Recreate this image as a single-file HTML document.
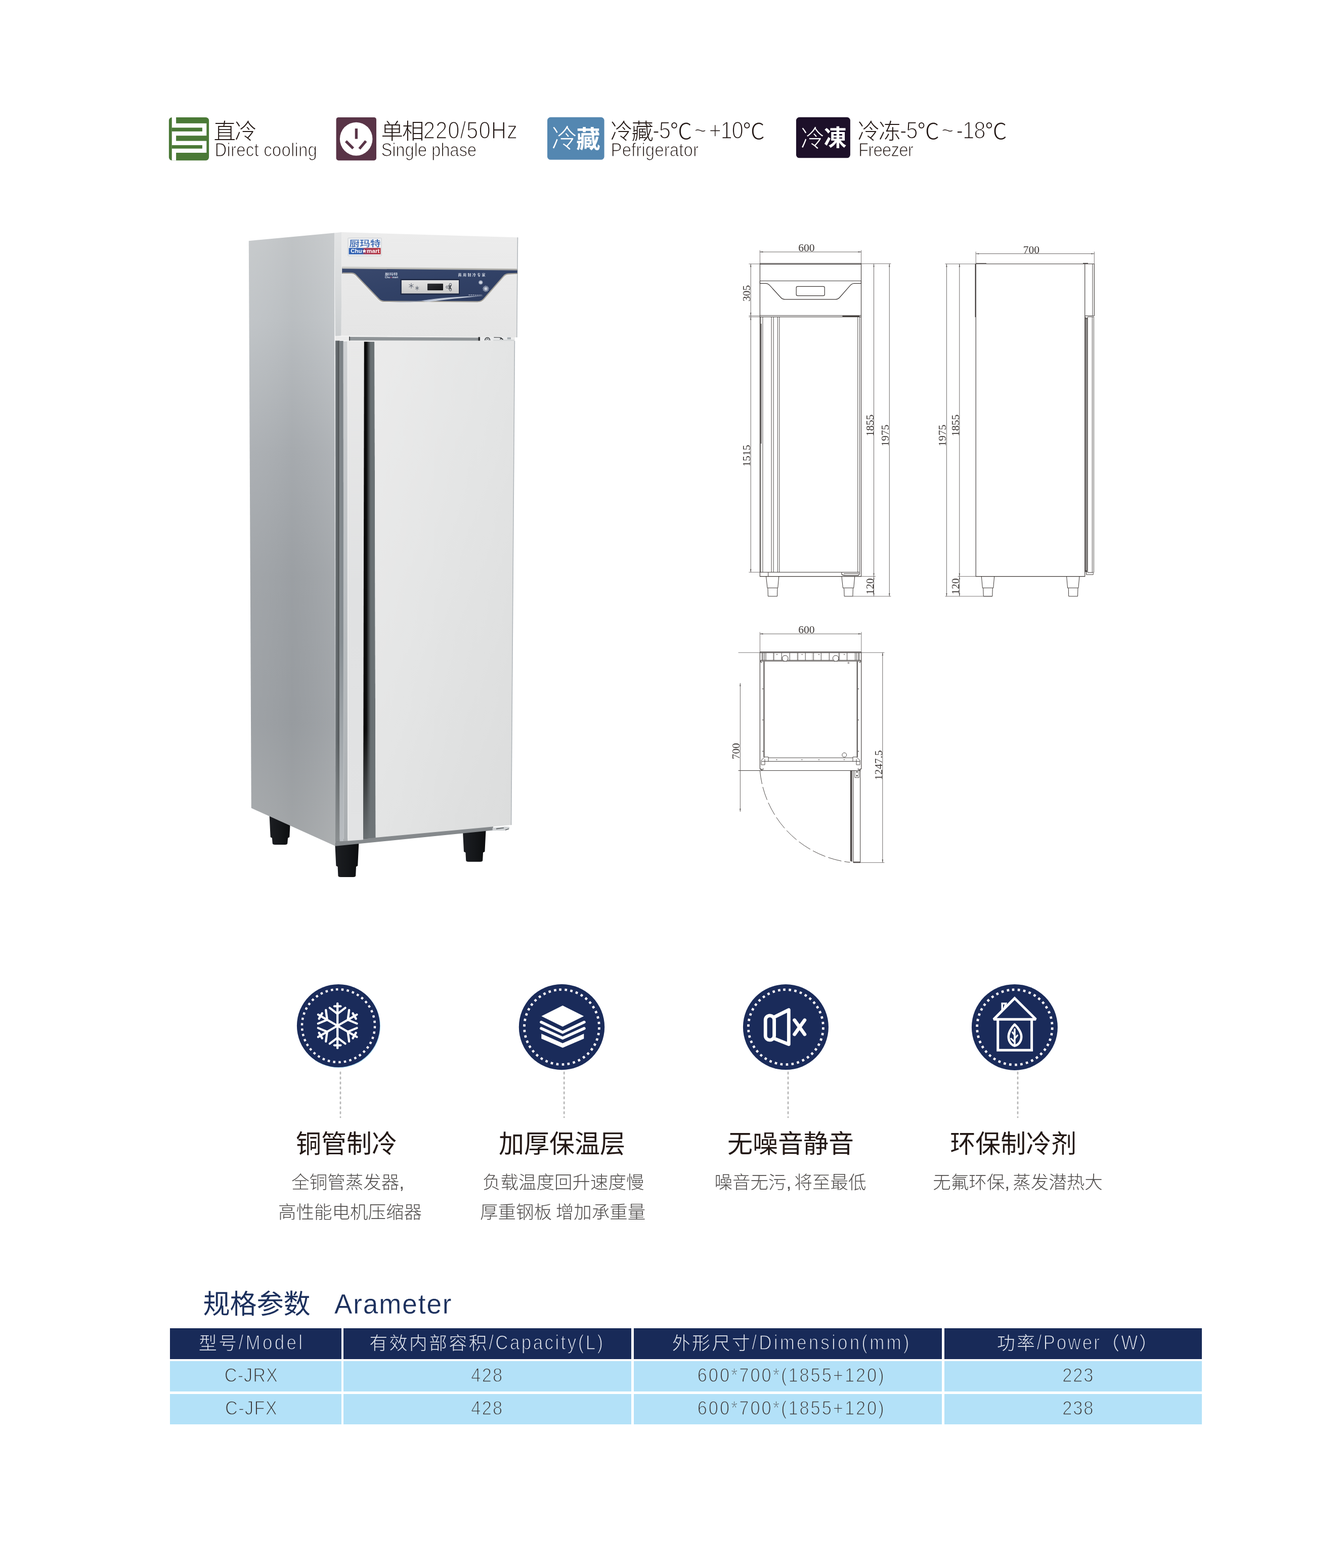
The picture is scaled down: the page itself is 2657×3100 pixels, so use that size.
<!DOCTYPE html>
<html lang="zh"><head><meta charset="utf-8"><title>C-JRX / C-JFX</title>
<style>html,body{margin:0;padding:0;background:#fff}
body{width:2657px;height:3100px;position:relative;font-family:"Liberation Sans",sans-serif}
.c{position:absolute}
.txt{position:absolute;left:0;top:0;width:2657px;height:3100px;will-change:transform}
.t{position:absolute;white-space:nowrap;line-height:1;font-family:"Liberation Sans",sans-serif;font-kerning:none;font-weight:400}
svg.art{position:absolute;left:0;top:0;will-change:transform}
svg.art text{font-kerning:none}
svg.art text.cjk{font-family:"Liberation Sans","Noto Sans CJK SC",sans-serif}
svg.art text.cjkjp{font-family:"Liberation Sans","Noto Sans CJK JP",sans-serif}</style></head><body>
<div class="tbl"><div class="c" style="left:336.0px;top:2625.9px;width:338.6px;height:60.7px;background:#182a58"></div><div class="c" style="left:679.0px;top:2625.9px;width:569.4px;height:60.7px;background:#182a58"></div><div class="c" style="left:1253.3px;top:2625.9px;width:608.9px;height:60.7px;background:#182a58"></div><div class="c" style="left:1866.9px;top:2625.9px;width:508.8px;height:60.7px;background:#182a58"></div><div class="c" style="left:336.0px;top:2691.1px;width:338.6px;height:60.3px;background:#b3e1f8"></div><div class="c" style="left:679.0px;top:2691.1px;width:569.4px;height:60.3px;background:#b3e1f8"></div><div class="c" style="left:1253.3px;top:2691.1px;width:608.9px;height:60.3px;background:#b3e1f8"></div><div class="c" style="left:1866.9px;top:2691.1px;width:508.8px;height:60.3px;background:#b3e1f8"></div><div class="c" style="left:336.0px;top:2756.0px;width:338.6px;height:60.3px;background:#b3e1f8"></div><div class="c" style="left:679.0px;top:2756.0px;width:569.4px;height:60.3px;background:#b3e1f8"></div><div class="c" style="left:1253.3px;top:2756.0px;width:608.9px;height:60.3px;background:#b3e1f8"></div><div class="c" style="left:1866.9px;top:2756.0px;width:508.8px;height:60.3px;background:#b3e1f8"></div></div>
<svg class="art" width="2657" height="3100" viewBox="0 0 2657 3100">
<rect x="333.9" y="231.9" width="79.2" height="85.3" rx="6.2" fill="#4a7936"/>
<g fill="#fff"><rect x="339.75" y="231.9" width="8.35" height="85.3"/><rect x="347.6" y="243.85" width="60.7" height="24.35"/><rect x="347.6" y="278.6" width="60.7" height="23.4"/></g>
<g fill="#4a7936"><rect x="339.6" y="252.4" width="60.3" height="7.4"/><rect x="339.6" y="287" width="60.3" height="6.8"/></g>
<rect x="664.6" y="231.9" width="79.4" height="85.3" rx="4.6" fill="#593447"/>
<ellipse cx="704.15" cy="274.65" rx="32.3" ry="33" fill="#fff"/>
<g stroke="#593447" stroke-width="5.3" stroke-linecap="butt"><line x1="704.4" y1="254.1" x2="704.4" y2="274.6"/><line x1="683.8" y1="279.2" x2="698.2" y2="293.4"/><line x1="723.4" y1="278.9" x2="710.5" y2="294.1"/></g>
<rect x="1082" y="231.8" width="112.6" height="84" rx="6.4" fill="#5487b1"/>
<rect x="1573.9" y="231.8" width="107" height="80.5" rx="6.4" fill="#1d1029"/>
<defs>
<linearGradient id="gSide" x1="0" y1="0" x2="0" y2="1">
<stop offset="0" stop-color="#c6c9cb"/><stop offset="0.14" stop-color="#bfc3c6"/><stop offset="0.36" stop-color="#aaaeb2"/><stop offset="0.56" stop-color="#9fa3a7"/><stop offset="0.8" stop-color="#9b9fa3"/><stop offset="1" stop-color="#a7aaac"/>
</linearGradient>
<linearGradient id="gSideH" x1="0" y1="0" x2="1" y2="0">
<stop offset="0" stop-color="#ffffff" stop-opacity="0.03"/><stop offset="0.5" stop-color="#50565c" stop-opacity="0.05"/><stop offset="1" stop-color="#ffffff" stop-opacity="0.07"/>
</linearGradient>
<linearGradient id="gTop" x1="0" y1="0" x2="0" y2="1">
<stop offset="0" stop-color="#ececec"/><stop offset="1" stop-color="#e5e5e5"/>
</linearGradient>
<linearGradient id="gDoor" x1="0" y1="0" x2="1" y2="1">
<stop offset="0" stop-color="#ebebeb"/><stop offset="0.45" stop-color="#e4e5e5"/><stop offset="1" stop-color="#dbdcdc"/>
</linearGradient>
<linearGradient id="gRecess" x1="0" y1="0" x2="1" y2="0">
<stop offset="0" stop-color="#050505"/><stop offset="0.27" stop-color="#0d0d0d"/><stop offset="0.44" stop-color="#3f4345"/><stop offset="0.6" stop-color="#697073"/><stop offset="1" stop-color="#6b7275"/>
</linearGradient>
<linearGradient id="gRecessV" x1="0" y1="0" x2="0" y2="1">
<stop offset="0" stop-color="#6d7376" stop-opacity="0"/><stop offset="0.78" stop-color="#6d7376" stop-opacity="0"/><stop offset="0.93" stop-color="#6d7376" stop-opacity="0.7"/><stop offset="1" stop-color="#6f7578" stop-opacity="0.95"/>
</linearGradient>
<linearGradient id="gBand" x1="0" y1="0" x2="1" y2="1">
<stop offset="0" stop-color="#3a496d"/><stop offset="0.45" stop-color="#324267"/><stop offset="1" stop-color="#2c3b5e"/>
</linearGradient>
<linearGradient id="gSilver" x1="0" y1="0" x2="0" y2="1">
<stop offset="0" stop-color="#e4e4e4"/><stop offset="1" stop-color="#c9c9c9"/>
</linearGradient>
<linearGradient id="gLogoBar" x1="0" y1="0" x2="1" y2="0">
<stop offset="0" stop-color="#2f62b4"/><stop offset="0.42" stop-color="#3560ae"/><stop offset="0.5" stop-color="#a03a58"/><stop offset="1" stop-color="#b8363f"/>
</linearGradient>
<linearGradient id="gS1" x1="0" y1="0" x2="1" y2="0"><stop offset="0" stop-color="#70767a"/><stop offset="1" stop-color="#505456"/></linearGradient>
<linearGradient id="gS1V" x1="0" y1="0" x2="0" y2="1"><stop offset="0" stop-color="#8a8e90" stop-opacity="0"/><stop offset="0.8" stop-color="#8a8e90" stop-opacity="0"/><stop offset="1" stop-color="#8a8e90" stop-opacity="1"/></linearGradient>
<linearGradient id="gS2" x1="0" y1="0" x2="0" y2="1"><stop offset="0" stop-color="#7b8185"/><stop offset="0.6" stop-color="#868d92"/><stop offset="0.9" stop-color="#b0b5b9"/><stop offset="1" stop-color="#b9bdc1"/></linearGradient>
<linearGradient id="gS3" x1="0" y1="0" x2="0" y2="1"><stop offset="0" stop-color="#cfd1d3"/><stop offset="0.5" stop-color="#bbbfc2"/><stop offset="1" stop-color="#a9adb0"/></linearGradient>
<linearGradient id="gHandle" x1="0" y1="0" x2="0" y2="1"><stop offset="0" stop-color="#e9e9e9"/><stop offset="0.5" stop-color="#e0e1e2"/><stop offset="1" stop-color="#e2e3e4"/></linearGradient>
<linearGradient id="gBezel" x1="0" y1="0" x2="0" y2="1"><stop offset="0" stop-color="#e3e4e5"/><stop offset="0.5" stop-color="#d9dbdc"/><stop offset="1" stop-color="#cbced0"/></linearGradient>
<linearGradient id="gTrim" x1="0" y1="0" x2="1" y2="0"><stop offset="0" stop-color="#a9a69f"/><stop offset="0.15" stop-color="#e8e8e6"/><stop offset="0.3" stop-color="#9c9890"/><stop offset="0.7" stop-color="#c9c8c4"/><stop offset="1" stop-color="#a29f98"/></linearGradient>
<linearGradient id="gTrimTop" x1="0" y1="0" x2="0" y2="1"><stop offset="0" stop-color="#dadad8"/><stop offset="0.6" stop-color="#b7b6b1"/><stop offset="1" stop-color="#8e8f93"/></linearGradient>
<linearGradient id="gLcd" x1="0" y1="0" x2="1" y2="1"><stop offset="0" stop-color="#2d2f34"/><stop offset="1" stop-color="#131417"/></linearGradient>
<linearGradient id="gFoot" x1="0" y1="0" x2="1" y2="0">
<stop offset="0" stop-color="#1c1e22"/><stop offset="0.5" stop-color="#15171a"/><stop offset="1" stop-color="#0c0d0f"/>
</linearGradient>
</defs>
<path d="M532.5 1610 L574.5 1610 L572.3 1655 L569.0999999999999 1656.8 L568.3 1667 Q568.3 1670 563.3 1670 L543.7 1670 Q538.7 1670 538.7 1667 L537.9000000000001 1656.8 L534.7 1655 Z" fill="url(#gFoot)"/>
<path d="M662.2 1666 L709.4 1666 L707.1999999999999 1711.7 L703.9999999999999 1713.5 L703.1999999999999 1731 Q703.1999999999999 1734 698.1999999999999 1734 L673.4000000000001 1734 Q668.4000000000001 1734 668.4000000000001 1731 L667.6000000000001 1713.5 L664.4000000000001 1711.7 Z" fill="url(#gFoot)"/>
<path d="M914.8 1640 L960.6 1640 L958.4 1683.8 L955.0 1685.6 L954.2 1700.8 Q954.2 1703.8 949.2 1703.8 L926.1999999999999 1703.8 Q921.1999999999999 1703.8 921.1999999999999 1700.8 L920.4 1685.6 L917.0 1683.8 Z" fill="url(#gFoot)"/>
<polygon points="491.8,476.2 661,460.6 663.2,1672.8 496.8,1597.6" fill="url(#gSide)"/>
<polygon points="491.8,476.2 661,460.6 663.2,1672.8 496.8,1597.6" fill="url(#gSideH)"/>
<polygon points="661,460.6 675.7,459 674.7,663.8 662.8,664.4" fill="url(#gBezel)"/>
<polygon points="662.8,664.4 1018,667 1018,674.2 662.8,673.6" fill="#ececec"/>
<polygon points="691,666 946,667.4 946,673.4 691,673.2" fill="#8f9497"/>
<rect x="690.2" y="665.5" width="1.4" height="8" fill="#2a2c2e"/>
<rect x="945.5" y="666.2" width="3.6" height="7.4" fill="#2c2e30"/>
<polygon points="949,666.4 1010,666.8 1010,673.8 949,673.6" fill="#e9eaeb"/>
<rect x="1002.8" y="666.6" width="7.2" height="4.2" fill="#a9afb3"/>
<polygon points="975,671.4 1016.8,671.6 1016.8,673.9 975,673.8" fill="#d5d7d8"/>
<path d="M958.6 672.8 Q959.4 667.6 963.6 667.4 Q967.8 667.6 968.6 672.8" fill="none" stroke="#45484b" stroke-width="1.7"/>
<path d="M961.4 672.6 L963.6 669.4 L966 672.6" fill="none" stroke="#6a6e71" stroke-width="1.1"/>
<path d="M976.4 666.9 L985.8 667 Q990.4 667.2 992 669.6 L994.6 671.2" fill="none" stroke="#3b3e41" stroke-width="1.6"/>
<path d="M988.6 671 L991 668.6 L993.4 671" fill="none" stroke="#2e3032" stroke-width="1.5"/>
<polygon points="675.7,459 1024.2,469.4 1022.4,667 674.7,663.8" fill="url(#gTop)"/>
<polygon points="1022.6,469.3 1024.2,469.4 1022.4,667 1021.0,667" fill="#b4b9bd"/>
<polygon points="663.2,1660 975,1632 975,1641.4 663.2,1672.8" fill="#85898c"/>
<polygon points="973.7,1636.4 998,1634.2 1007,1634.8 1007,1638.4 998,1642 973.7,1642.2" fill="#cfd2d4"/>
<path d="M981 1638.6 L996 1636.8 M999 1641 L1006 1638.6" stroke="#5a5e61" stroke-width="1.6" fill="none"/>
<polygon points="662.9,673.6 671.5,673.6 671.5,1663 663.2,1663.6" fill="url(#gS1)"/>
<polygon points="662.9,673.6 671.5,673.6 671.5,1663 663.2,1663.6" fill="url(#gS1V)"/>
<polygon points="671.5,674 678.8,674 679.4,1663 671.5,1663.2" fill="url(#gS2)"/>
<polygon points="678.8,675 686.9,674.4 687.6,1662.6 679.4,1663" fill="url(#gS3)"/>
<polygon points="686.9,674.2 719.8,674.4 718,1660.2 687.6,1662.6" fill="url(#gHandle)"/>
<line x1="687.3" y1="675" x2="688" y2="1662" stroke="#f4f4f4" stroke-width="1"/>
<polygon points="719.8,675.6 740.4,675.6 742.6,1656 718,1658" fill="url(#gRecess)"/>
<polygon points="719.8,675.6 740.4,675.6 742.6,1656 718,1658" fill="url(#gRecessV)"/>
<polygon points="740.4,674.0 1017.2,674.0 1010.6,1631.1 742.6,1655.9" fill="url(#gDoor)"/>
<polygon points="1016.6,674 1018.2,674 1011.4,1631 1009.8,1631.2" fill="#b3b8bc"/>
<path d="M676.2 529 L1022.8 533.4 L1022.7 542.4 L1004.6 543.1 Q998.6 543.4 994.6 548 L955.6 592.8 Q951 598 944 598 L759 597.4 Q752.4 597.2 748.4 593 L703 545.4 Q699.4 541.6 693.5 541.6 L676.2 541.6 Z" fill="url(#gBand)"/>
<path d="M1022.7 542.4 L1004.6 543.1 Q998.6 543.4 994.6 548 L955.6 592.8 Q951 598 944 598 L759 597.4 Q752.4 597.2 748.4 593 L703 545.4 Q699.4 541.6 693.5 541.6 L676.2 541.6" fill="none" stroke="#f6f6f6" stroke-width="1.6"/>
<path d="M1022.7 542.4 L1004.6 543.1 Q998.6 543.4 994.6 548 L955.6 592.8 Q951 598 944 598 L759 597.4 Q752.4 597.2 748.4 593 L703 545.4 Q699.4 541.6 693.5 541.6 L676.2 541.6" fill="none" stroke="#a5a199" stroke-width="2.3" transform="translate(0.6 -1.6)"/>
<polygon points="676.2,526.8 1022.8,531.4 1022.8,534.8 676.2,531.2" fill="url(#gTrimTop)"/>
<path d="M833 594.6 Q884 586.2 957 585 Q892 590.4 851 596.6 Q842 597.4 833 594.6 Z" fill="#d3d9e6" opacity="0.9"/>
<line x1="926.4" y1="583.2" x2="953" y2="583.6" stroke="#c5cbd8" stroke-width="1.5" stroke-dasharray="3 1.2" opacity="0.8"/>
<path d="M770 597 Q820 596.4 868 590.4 Q826 598.4 790 597.8 Z" fill="#8a97b5" opacity="0.6"/>
<rect x="791.5" y="551.6" width="117.4" height="31.2" fill="#1f2a45"/>
<rect x="793.8" y="554" width="113.2" height="26.2" fill="url(#gSilver)"/>
<rect x="845" y="560.8" width="31" height="13.2" rx="0.8" fill="url(#gLcd)"/>
<g stroke="#4a5160" stroke-width="0.9"><line x1="808.50" y1="562.40" x2="817.50" y2="567.60"/><line x1="813.00" y1="559.80" x2="813.00" y2="570.20"/><line x1="817.50" y1="562.40" x2="808.50" y2="567.60"/></g>
<g stroke="#4a5160" stroke-width="0.9"><line x1="820.96" y1="567.50" x2="828.24" y2="571.70"/><line x1="824.60" y1="565.40" x2="824.60" y2="573.80"/><line x1="828.24" y1="567.50" x2="820.96" y2="571.70"/></g>
<circle cx="890.4" cy="562.4" r="2.2" fill="none" stroke="#3c4250" stroke-width="0.9"/><circle cx="884" cy="567.6" r="2.2" fill="none" stroke="#3c4250" stroke-width="0.9"/><circle cx="890.4" cy="573" r="2.2" fill="none" stroke="#3c4250" stroke-width="0.9"/>
<path d="M887 564 L892 571.6 M892 564 L887 571.6" stroke="#20242c" stroke-width="1.5"/>
<g stroke="#e8ecf4" stroke-width="1.1" opacity="0.9"><line x1="946.10" y1="558.40" x2="954.50" y2="558.40"/><line x1="948.20" y1="554.76" x2="952.40" y2="562.04"/><line x1="952.40" y1="554.76" x2="948.20" y2="562.04"/><line x1="946.66" y1="556.30" x2="953.94" y2="560.50"/><line x1="950.30" y1="554.20" x2="950.30" y2="562.60"/><line x1="953.94" y1="556.30" x2="946.66" y2="560.50"/></g>
<g stroke="#e8ecf4" stroke-width="1.1" opacity="0.9"><line x1="954.20" y1="570.80" x2="966.60" y2="570.80"/><line x1="957.30" y1="565.43" x2="963.50" y2="576.17"/><line x1="963.50" y1="565.43" x2="957.30" y2="576.17"/><line x1="955.03" y1="567.70" x2="965.77" y2="573.90"/><line x1="960.40" y1="564.60" x2="960.40" y2="577.00"/><line x1="965.77" y1="567.70" x2="955.03" y2="573.90"/></g>
<rect x="688" y="470.6" width="66" height="35.2" rx="1.2" fill="#eef0f2" stroke="#c9cbce" stroke-width="1"/>
<rect x="689.6" y="490.2" width="63" height="12.6" fill="url(#gLogoBar)"/>
<path d="M1502.4 1139.6 L1502.4 520.8 L1702.5 520.8 L1702.5 1139.6 Z" fill="none" stroke="#3a3533" stroke-width="1.1" />
<line x1="1502.4" y1="522.4" x2="1702.5" y2="522.4" stroke="#3a3533" stroke-width="1.3"/>
<line x1="1502.4" y1="555.3" x2="1702.5" y2="555.3" stroke="#3a3533" stroke-width="1.0"/>
<path d="M1502.4 555.3 L1502.4 560.3 L1514.6 560.3 Q1518.6 560.6 1521.6 564.2 L1543.4 588 Q1546.6 591.8 1551.6 591.8 L1651.8 591.8 Q1656.8 591.8 1660 588 L1681 564.2 Q1684 560.6 1688.4 560.3 L1702.5 560.3 L1702.5 555.3" fill="none" stroke="#3a3533" stroke-width="1.2" />
<rect x="1574.2" y="566.4" width="56" height="18.3" rx="2.6" fill="none" stroke="#3a3533" stroke-width="1.2"/>
<line x1="1502.4" y1="623.8" x2="1702.5" y2="623.8" stroke="#3a3533" stroke-width="1.0"/>
<line x1="1502.4" y1="626.6" x2="1702.5" y2="626.6" stroke="#3a3533" stroke-width="1.0"/>
<line x1="1665.4" y1="625.2" x2="1699.5" y2="625.2" stroke="#3a3533" stroke-width="2.0"/>
<line x1="1503.9" y1="626.6" x2="1503.9" y2="1131.3" stroke="#3a3533" stroke-width="0.9"/>
<line x1="1507.9" y1="626.6" x2="1507.9" y2="1131.3" stroke="#3a3533" stroke-width="0.9"/>
<line x1="1525.1" y1="626.6" x2="1525.1" y2="1131.3" stroke="#3a3533" stroke-width="0.9"/>
<line x1="1529.2" y1="626.6" x2="1529.2" y2="1131.3" stroke="#3a3533" stroke-width="0.9"/>
<line x1="1537.3" y1="626.6" x2="1537.3" y2="1131.3" stroke="#3a3533" stroke-width="0.9"/>
<line x1="1540.8" y1="626.6" x2="1540.8" y2="1131.3" stroke="#3a3533" stroke-width="0.9"/>
<line x1="1695.8" y1="626.6" x2="1695.8" y2="1131.3" stroke="#3a3533" stroke-width="0.9"/>
<line x1="1699.5" y1="626.6" x2="1699.5" y2="1131.3" stroke="#3a3533" stroke-width="0.9"/>
<line x1="1504.6" y1="640" x2="1504.6" y2="877" stroke="#3a3533" stroke-width="1.4"/>
<line x1="1502.4" y1="1131.3" x2="1699.5" y2="1131.3" stroke="#3a3533" stroke-width="1.0"/>
<line x1="1518.7" y1="1131.3" x2="1518.7" y2="1139.6" stroke="#3a3533" stroke-width="1.0"/>
<path d="M1664 1131.9 L1664 1135.5 Q1666 1137.6 1672 1137.6 L1697 1137.6 L1699.5 1134 L1699.5 1131.9 M1668 1134 L1698 1134" fill="none" stroke="#3a3533" stroke-width="1.1" />
<path d="M1514.6 1140 L1517 1162.3 L1537.7 1162.3 L1539.7 1140 M1517.6 1162.3 L1518 1163.8999999999999 L1518.4 1178.9 L1536.5 1178.9 L1536.9 1163.8999999999999 L1537.1000000000001 1162.3" fill="none" stroke="#3a3533" stroke-width="1.0" />
<path d="M1664 1140 L1666.4 1162.3 L1687.7 1162.3 L1689.7 1140 M1667.0 1162.3 L1668.7 1163.8999999999999 L1669.1000000000001 1178.9 L1685.8999999999999 1178.9 L1686.3 1163.8999999999999 L1687.1000000000001 1162.3" fill="none" stroke="#3a3533" stroke-width="1.0" />
<line x1="1501.8" y1="498.1" x2="1702.8" y2="498.1" stroke="#5a5655" stroke-width="0.9"/>
<line x1="1502.4" y1="494.6" x2="1502.4" y2="520.8" stroke="#5a5655" stroke-width="0.8"/>
<line x1="1702.5" y1="494.6" x2="1702.5" y2="520.8" stroke="#5a5655" stroke-width="0.8"/>
<path d="M1502.4 498.1 L1508.4 496.90000000000003 L1508.4 499.3 Z" fill="#5a5655"/>
<path d="M1702.5 498.1 L1696.5 496.90000000000003 L1696.5 499.3 Z" fill="#5a5655"/>
<text x="1594.4" y="497.4" text-anchor="middle" font-family="Liberation Serif, serif" font-size="21.5" fill="#3a3533">600</text>
<line x1="1484.2" y1="521.8" x2="1484.2" y2="1131.3" stroke="#5a5655" stroke-width="0.9"/>
<line x1="1480.4" y1="521.8" x2="1502.4" y2="521.8" stroke="#5a5655" stroke-width="0.8"/>
<line x1="1480.4" y1="624.2" x2="1502.4" y2="624.2" stroke="#5a5655" stroke-width="0.8"/>
<line x1="1480.4" y1="626.6" x2="1502.4" y2="626.6" stroke="#5a5655" stroke-width="0.8"/>
<line x1="1480.4" y1="1131.3" x2="1502.4" y2="1131.3" stroke="#5a5655" stroke-width="0.8"/>
<path d="M1484.2 521.8 L1483.0 527.8 L1485.4 527.8 Z" fill="#5a5655"/>
<path d="M1484.2 624.2 L1483.0 618.2 L1485.4 618.2 Z" fill="#5a5655"/>
<path d="M1484.2 626.6 L1483.0 632.6 L1485.4 632.6 Z" fill="#5a5655"/>
<path d="M1484.2 1131.3 L1483.0 1125.3 L1485.4 1125.3 Z" fill="#5a5655"/>
<text transform="translate(1483.4 579.8) rotate(-90)" text-anchor="middle" font-family="Liberation Serif, serif" font-size="21.5" fill="#3a3533">305</text>
<text transform="translate(1483.4 901) rotate(-90)" text-anchor="middle" font-family="Liberation Serif, serif" font-size="21.5" fill="#3a3533">1515</text>
<line x1="1727.5" y1="521.4" x2="1727.5" y2="1178.9" stroke="#5a5655" stroke-width="0.9"/>
<line x1="1758.3" y1="521.4" x2="1758.3" y2="1178.9" stroke="#5a5655" stroke-width="0.9"/>
<line x1="1702.5" y1="521.4" x2="1761.4" y2="521.4" stroke="#5a5655" stroke-width="0.8"/>
<line x1="1702.5" y1="1139.6" x2="1731" y2="1139.6" stroke="#5a5655" stroke-width="0.8"/>
<line x1="1686" y1="1178.9" x2="1761.4" y2="1178.9" stroke="#5a5655" stroke-width="0.8"/>
<path d="M1727.5 521.4 L1726.3 527.4 L1728.7 527.4 Z" fill="#5a5655"/>
<path d="M1758.3 521.4 L1757.1 527.4 L1759.5 527.4 Z" fill="#5a5655"/>
<path d="M1727.5 1139.6 L1726.3 1133.6 L1728.7 1133.6 Z" fill="#5a5655"/>
<path d="M1727.5 1139.6 L1726.3 1145.6 L1728.7 1145.6 Z" fill="#5a5655"/>
<path d="M1727.5 1178.9 L1726.3 1172.9 L1728.7 1172.9 Z" fill="#5a5655"/>
<path d="M1758.3 1178.9 L1757.1 1172.9 L1759.5 1172.9 Z" fill="#5a5655"/>
<text transform="translate(1726.6 841) rotate(-90)" text-anchor="middle" font-family="Liberation Serif, serif" font-size="21.5" fill="#3a3533">1855</text>
<text transform="translate(1757.2 861) rotate(-90)" text-anchor="middle" font-family="Liberation Serif, serif" font-size="21.5" fill="#3a3533">1975</text>
<text transform="translate(1726.6 1159.4) rotate(-90)" text-anchor="middle" font-family="Liberation Serif, serif" font-size="21.5" fill="#3a3533">120</text>
<path d="M1929.2 521.8 L2163.3 521.8 L2163.3 624.2 L2144.7 624.2 M1929.2 521.8 L1929.2 1139.6 L2144.7 1139.6 L2144.7 521.8" fill="none" stroke="#3a3533" stroke-width="1.1" />
<line x1="1928.3" y1="521.8" x2="1928.3" y2="627" stroke="#3a3533" stroke-width="1.5"/>
<line x1="1929.2" y1="520.6" x2="1950" y2="520.6" stroke="#3a3533" stroke-width="0.9"/>
<line x1="2141" y1="520.6" x2="2151" y2="520.6" stroke="#3a3533" stroke-width="1.4"/>
<line x1="2159.9" y1="521.8" x2="2159.9" y2="624.2" stroke="#3a3533" stroke-width="0.9"/>
<path d="M2146 628 L2146 1131 M2148.6 628 L2148.6 1131" fill="none" stroke="#3a3533" stroke-width="1.5" />
<path d="M2146 626 L2146 630 L2150.2 630 L2150.2 626.4 L2162.3 626.4 L2162.3 1131.9 M2150.2 630 L2150.2 1131.9 M2159.3 626.4 L2159.3 1131.9" fill="none" stroke="#3a3533" stroke-width="0.9" />
<path d="M2144.7 1128 L2147.6 1128 L2147.6 1136 L2161 1136 L2161.6 1133.4 M2150.2 1131.9 L2162.3 1131.9" fill="none" stroke="#3a3533" stroke-width="1.0" />
<path d="M1940.3 1140 L1942.4 1162.3 L1963.7 1162.3 L1965.7 1140 M1943.0 1162.3 L1943.8 1163.8999999999999 L1944.2 1178.9 L1961.8 1178.9 L1962.2 1163.8999999999999 L1963.1000000000001 1162.3" fill="none" stroke="#3a3533" stroke-width="1.0" />
<path d="M2108.6 1140 L2110.6 1162.3 L2131.9 1162.3 L2133.9 1140 M2111.2 1162.3 L2112.3 1163.8999999999999 L2112.7000000000003 1178.9 L2130.5 1178.9 L2130.9 1163.8999999999999 L2131.3 1162.3" fill="none" stroke="#3a3533" stroke-width="1.0" />
<line x1="1929.2" y1="501.6" x2="2163.3" y2="501.6" stroke="#5a5655" stroke-width="0.9"/>
<line x1="1929.2" y1="497.6" x2="1929.2" y2="521.8" stroke="#5a5655" stroke-width="0.8"/>
<line x1="2163.3" y1="497.6" x2="2163.3" y2="521.8" stroke="#5a5655" stroke-width="0.8"/>
<path d="M1929.2 501.6 L1935.2 500.40000000000003 L1935.2 502.8 Z" fill="#5a5655"/>
<path d="M2163.3 501.6 L2157.3 500.40000000000003 L2157.3 502.8 Z" fill="#5a5655"/>
<text x="2038.8" y="500.8" text-anchor="middle" font-family="Liberation Serif, serif" font-size="21.5" fill="#3a3533">700</text>
<line x1="1871.4" y1="521.8" x2="1871.4" y2="1178.9" stroke="#5a5655" stroke-width="0.9"/>
<line x1="1896.8" y1="521.8" x2="1896.8" y2="1178.9" stroke="#5a5655" stroke-width="0.9"/>
<line x1="1868.4" y1="521.8" x2="1929.2" y2="521.8" stroke="#5a5655" stroke-width="0.8"/>
<line x1="1893.6" y1="1139.6" x2="1929.2" y2="1139.6" stroke="#5a5655" stroke-width="0.8"/>
<line x1="1868.4" y1="1178.9" x2="1961.6" y2="1178.9" stroke="#5a5655" stroke-width="0.8"/>
<path d="M1871.4 521.8 L1870.2 527.8 L1872.6000000000001 527.8 Z" fill="#5a5655"/>
<path d="M1896.8 521.8 L1895.6 527.8 L1898.0 527.8 Z" fill="#5a5655"/>
<path d="M1896.8 1139.6 L1895.6 1133.6 L1898.0 1133.6 Z" fill="#5a5655"/>
<path d="M1896.8 1139.6 L1895.6 1145.6 L1898.0 1145.6 Z" fill="#5a5655"/>
<path d="M1896.8 1178.9 L1895.6 1172.9 L1898.0 1172.9 Z" fill="#5a5655"/>
<path d="M1871.4 1178.9 L1870.2 1172.9 L1872.6000000000001 1172.9 Z" fill="#5a5655"/>
<text transform="translate(1870.4 861) rotate(-90)" text-anchor="middle" font-family="Liberation Serif, serif" font-size="21.5" fill="#3a3533">1975</text>
<text transform="translate(1895.8 841) rotate(-90)" text-anchor="middle" font-family="Liberation Serif, serif" font-size="21.5" fill="#3a3533">1855</text>
<text transform="translate(1895.8 1159.4) rotate(-90)" text-anchor="middle" font-family="Liberation Serif, serif" font-size="21.5" fill="#3a3533">120</text>
<path d="M1502.4 1288.9 L1702.8 1288.9 M1502.4 1288.9 L1502.4 1520 L1507 1523.4 M1702.8 1288.9 L1702.8 1520 L1698 1523.4" fill="none" stroke="#3a3533" stroke-width="1.1" />
<line x1="1502.4" y1="1290.6" x2="1702.8" y2="1290.6" stroke="#3a3533" stroke-width="0.9"/>
<line x1="1503.4" y1="1305.4" x2="1701.8" y2="1305.4" stroke="#3a3533" stroke-width="1.0"/>
<line x1="1503.4" y1="1307.2" x2="1701.8" y2="1307.2" stroke="#3a3533" stroke-width="1.0"/>
<line x1="1506.4" y1="1290.6" x2="1506.4" y2="1305.4" stroke="#3a3533" stroke-width="0.9"/>
<line x1="1508.4" y1="1290.6" x2="1508.4" y2="1305.4" stroke="#3a3533" stroke-width="0.9"/>
<line x1="1511.4" y1="1290.6" x2="1511.4" y2="1305.4" stroke="#3a3533" stroke-width="0.9"/>
<line x1="1514.1" y1="1290.6" x2="1514.1" y2="1305.4" stroke="#3a3533" stroke-width="0.9"/>
<line x1="1529.1" y1="1290.6" x2="1529.1" y2="1305.4" stroke="#3a3533" stroke-width="0.9"/>
<line x1="1545.2" y1="1290.6" x2="1545.2" y2="1305.4" stroke="#3a3533" stroke-width="0.9"/>
<line x1="1561.2" y1="1290.6" x2="1561.2" y2="1305.4" stroke="#3a3533" stroke-width="0.9"/>
<line x1="1577.3" y1="1290.6" x2="1577.3" y2="1305.4" stroke="#3a3533" stroke-width="0.9"/>
<line x1="1592.2" y1="1290.6" x2="1592.2" y2="1305.4" stroke="#3a3533" stroke-width="0.9"/>
<line x1="1608.3" y1="1290.6" x2="1608.3" y2="1305.4" stroke="#3a3533" stroke-width="0.9"/>
<line x1="1623.3" y1="1290.6" x2="1623.3" y2="1305.4" stroke="#3a3533" stroke-width="0.9"/>
<line x1="1639.3" y1="1290.6" x2="1639.3" y2="1305.4" stroke="#3a3533" stroke-width="0.9"/>
<line x1="1658.6" y1="1290.6" x2="1658.6" y2="1305.4" stroke="#3a3533" stroke-width="0.9"/>
<line x1="1674.6" y1="1290.6" x2="1674.6" y2="1305.4" stroke="#3a3533" stroke-width="0.9"/>
<line x1="1690.7" y1="1290.6" x2="1690.7" y2="1305.4" stroke="#3a3533" stroke-width="0.9"/>
<line x1="1693.4" y1="1290.6" x2="1693.4" y2="1305.4" stroke="#3a3533" stroke-width="0.9"/>
<line x1="1696.8" y1="1290.6" x2="1696.8" y2="1305.4" stroke="#3a3533" stroke-width="0.9"/>
<line x1="1698.8" y1="1290.6" x2="1698.8" y2="1305.4" stroke="#3a3533" stroke-width="0.9"/>
<line x1="1530.4" y1="1291" x2="1530.4" y2="1305" stroke="#8a8685" stroke-width="0.7"/>
<line x1="1576" y1="1291" x2="1576" y2="1305" stroke="#8a8685" stroke-width="0.7"/>
<line x1="1606" y1="1291" x2="1606" y2="1305" stroke="#8a8685" stroke-width="0.7"/>
<line x1="1660" y1="1291" x2="1660" y2="1305" stroke="#8a8685" stroke-width="0.7"/>
<circle cx="1536" cy="1293.8" r="0.9" fill="#3a3533"/>
<circle cx="1585.6" cy="1293.8" r="0.9" fill="#3a3533"/>
<circle cx="1619" cy="1293.8" r="0.9" fill="#3a3533"/>
<circle cx="1669" cy="1293.8" r="0.9" fill="#3a3533"/>
<circle cx="1552.2" cy="1301.6" r="5.8" fill="#fff" stroke="#3a3533" stroke-width="1"/><circle cx="1652.2" cy="1301.6" r="5.8" fill="#fff" stroke="#3a3533" stroke-width="1"/>
<path d="M1503 1306 L1504.4 1310 L1507 1309 M1702 1306 L1700.6 1310 L1698 1309" fill="none" stroke="#3a3533" stroke-width="0.9" />
<line x1="1510.9" y1="1307.2" x2="1510.9" y2="1497" stroke="#3a3533" stroke-width="1.2"/>
<line x1="1694.3" y1="1307.2" x2="1694.3" y2="1497" stroke="#3a3533" stroke-width="1.2"/>
<line x1="1509.6" y1="1307.2" x2="1509.6" y2="1497" stroke="#3a3533" stroke-width="0.7"/>
<line x1="1695.6" y1="1307.2" x2="1695.6" y2="1497" stroke="#3a3533" stroke-width="0.7"/>
<circle cx="1508" cy="1361.8" r="0.9" fill="#3a3533"/><circle cx="1697" cy="1361.8" r="0.9" fill="#3a3533"/>
<circle cx="1508" cy="1423.3" r="0.9" fill="#3a3533"/><circle cx="1697" cy="1423.3" r="0.9" fill="#3a3533"/>
<circle cx="1508" cy="1485.3" r="0.9" fill="#3a3533"/><circle cx="1697" cy="1485.3" r="0.9" fill="#3a3533"/>
<circle cx="1677.4" cy="1310.6" r="1.3" fill="none" stroke="#3a3533" stroke-width="0.8"/>
<circle cx="1669.2" cy="1492.6" r="4.4" fill="none" stroke="#3a3533" stroke-width="0.9"/>
<line x1="1519" y1="1498.2" x2="1686" y2="1498.2" stroke="#3a3533" stroke-width="0.9"/>
<line x1="1506" y1="1505.3" x2="1700" y2="1505.3" stroke="#3a3533" stroke-width="1.1"/>
<circle cx="1535.6" cy="1501.8" r="0.9" fill="#3a3533"/>
<circle cx="1585.4" cy="1501.8" r="0.9" fill="#3a3533"/>
<circle cx="1619" cy="1501.8" r="0.9" fill="#3a3533"/>
<circle cx="1668.8" cy="1501.8" r="0.9" fill="#3a3533"/>
<path d="M1519 1505 L1519 1496.6 L1512 1496.6 L1505 1503 L1505 1512 L1512 1512 L1512 1501 M1686 1505 L1686 1496.6 L1693 1496.6 L1700 1503 L1700 1512 L1693 1512 L1693 1501" fill="none" stroke="#3a3533" stroke-width="0.9" />
<path d="M1503 1520 L1508.6 1522 L1508.6 1518.6 M1702.2 1520 L1696.6 1522 L1696.6 1518.6" fill="none" stroke="#3a3533" stroke-width="0.9" />
<line x1="1459.6" y1="1523.4" x2="1701.8" y2="1523.4" stroke="#3a3533" stroke-width="1.0"/>
<path d="M1681.4 1523.4 L1681.4 1702.4 M1684.2 1523.4 L1684.2 1703.6 M1687 1523.4 L1687 1705.3 M1700.7 1523.4 L1700.7 1705.3 M1687 1704 L1700.7 1704" fill="none" stroke="#3a3533" stroke-width="1.0" />
<line x1="1682.8" y1="1523.4" x2="1682.8" y2="1703" stroke="#3a3533" stroke-width="1.6"/>
<line x1="1687" y1="1705.3" x2="1700.7" y2="1705.3" stroke="#3a3533" stroke-width="1.6"/>
<path d="M1690 1523.4 L1690 1537.3 L1698.2 1537.3 L1698.2 1523.4" fill="none" stroke="#3a3533" stroke-width="0.9" />
<circle cx="1694.2" cy="1526" r="1.5" fill="#3a3533"/><circle cx="1694.2" cy="1533.4" r="1.5" fill="#3a3533"/>
<path d="M1502.3 1523.4 A200.9 200.9 0 0 0 1680.5 1704.9" fill="none" stroke="#3a3533" stroke-width="0.9" stroke-dasharray="27 6"/>
<line x1="1502.4" y1="1253.2" x2="1702.8" y2="1253.2" stroke="#5a5655" stroke-width="0.9"/>
<line x1="1502.4" y1="1249.6" x2="1502.4" y2="1288.9" stroke="#5a5655" stroke-width="0.8"/>
<line x1="1702.8" y1="1249.6" x2="1702.8" y2="1288.9" stroke="#5a5655" stroke-width="0.8"/>
<path d="M1502.4 1253.2 L1508.4 1252.0 L1508.4 1254.4 Z" fill="#5a5655"/>
<path d="M1702.8 1253.2 L1696.8 1252.0 L1696.8 1254.4 Z" fill="#5a5655"/>
<text x="1594.4" y="1252.4" text-anchor="middle" font-family="Liberation Serif, serif" font-size="21.5" fill="#3a3533">600</text>
<line x1="1459.6" y1="1290.2" x2="1748.4" y2="1290.2" stroke="#5a5655" stroke-width="0.8"/>
<line x1="1687.4" y1="1705.3" x2="1748.4" y2="1705.3" stroke="#5a5655" stroke-width="0.8"/>
<line x1="1744.8" y1="1290.2" x2="1744.8" y2="1705.3" stroke="#5a5655" stroke-width="0.9"/>
<path d="M1744.8 1290.2 L1743.6 1296.2 L1746.0 1296.2 Z" fill="#5a5655"/>
<path d="M1744.8 1705.3 L1743.6 1699.3 L1746.0 1699.3 Z" fill="#5a5655"/>
<text transform="translate(1743.8 1512.8) rotate(-90)" text-anchor="middle" font-family="Liberation Serif, serif" font-size="21.5" fill="#3a3533">1247.5</text>
<line x1="1463.4" y1="1350.5" x2="1463.4" y2="1604.7" stroke="#5a5655" stroke-width="0.9"/>
<path d="M1463.4 1350.5 L1462.2 1356.5 L1464.6000000000001 1356.5 Z" fill="#5a5655"/>
<path d="M1463.4 1604.7 L1462.2 1598.7 L1464.6000000000001 1598.7 Z" fill="#5a5655"/>
<text transform="translate(1462.4 1485) rotate(-90)" text-anchor="middle" font-family="Liberation Serif, serif" font-size="21.5" fill="#3a3533">700</text>
<circle cx="669.9" cy="2028.9" r="82.1" fill="#a9dcf6"/>
<circle cx="669" cy="2028" r="82.1" fill="#1a2b5a"/><circle cx="669" cy="2028" r="72" fill="none" stroke="#fbf6f8" stroke-width="4.4" stroke-dasharray="4.524 6.247" transform="rotate(-94 669 2028)"/>
<g stroke="#fff" stroke-width="4.3" stroke-linecap="round" fill="none"><g transform="translate(667.2 2028) rotate(0)"><line x1="0" y1="0" x2="0" y2="-44.2"/><line x1="-6.2" y1="-38.6" x2="6.2" y2="-38.6"/><path d="M-15.4 -35.4 L0 -23.6 L15.4 -35.4"/></g><g transform="translate(667.2 2028) rotate(60)"><line x1="0" y1="0" x2="0" y2="-44.2"/><line x1="-6.2" y1="-38.6" x2="6.2" y2="-38.6"/><path d="M-15.4 -35.4 L0 -23.6 L15.4 -35.4"/></g><g transform="translate(667.2 2028) rotate(120)"><line x1="0" y1="0" x2="0" y2="-44.2"/><line x1="-6.2" y1="-38.6" x2="6.2" y2="-38.6"/><path d="M-15.4 -35.4 L0 -23.6 L15.4 -35.4"/></g><g transform="translate(667.2 2028) rotate(180)"><line x1="0" y1="0" x2="0" y2="-44.2"/><line x1="-6.2" y1="-38.6" x2="6.2" y2="-38.6"/><path d="M-15.4 -35.4 L0 -23.6 L15.4 -35.4"/></g><g transform="translate(667.2 2028) rotate(240)"><line x1="0" y1="0" x2="0" y2="-44.2"/><line x1="-6.2" y1="-38.6" x2="6.2" y2="-38.6"/><path d="M-15.4 -35.4 L0 -23.6 L15.4 -35.4"/></g><g transform="translate(667.2 2028) rotate(300)"><line x1="0" y1="0" x2="0" y2="-44.2"/><line x1="-6.2" y1="-38.6" x2="6.2" y2="-38.6"/><path d="M-15.4 -35.4 L0 -23.6 L15.4 -35.4"/></g></g>
<line x1="673" y1="2119.9" x2="673" y2="2209" stroke="#b8b8b8" stroke-width="2.8" stroke-linecap="round" stroke-dasharray="3.1 6.72"/>
<circle cx="1110.5" cy="2030.5" r="84.7" fill="#1a2b5a"/><circle cx="1110.5" cy="2030.5" r="74" fill="none" stroke="#fbf6f8" stroke-width="4.7" stroke-dasharray="4.650 6.421" transform="rotate(-94 1110.5 2030.5)"/>
<g fill="#fff"><polygon points="1112.3,1988 1154.2,2008.9 1112.3,2029.8 1070.3,2008.9"/><polygon points="1070.3,2043.8 1112.3,2062.4 1154.3,2043.8 1154.3,2053.4 1112.3,2071.4 1070.3,2053.4"/></g><g stroke="#fff" stroke-width="5.6" stroke-linecap="round" stroke-linejoin="miter" fill="none"><path d="M1069.8999999999999 2020.8 L1112.3 2041 L1154.8999999999999 2020.8"/><path d="M1069.8999999999999 2033.1 L1112.3 2052.4 L1154.8999999999999 2033.1"/></g>
<line x1="1115.2" y1="2119.9" x2="1115.2" y2="2209" stroke="#b8b8b8" stroke-width="2.8" stroke-linecap="round" stroke-dasharray="3.1 6.72"/>
<circle cx="1553.4" cy="2030.6" r="84.5" fill="#1a2b5a"/><circle cx="1553.4" cy="2030.6" r="74" fill="none" stroke="#fbf6f8" stroke-width="4.7" stroke-dasharray="4.650 6.421" transform="rotate(-94 1553.4 2030.6)"/>
<g stroke="#fff" stroke-width="6.8" fill="none" stroke-linejoin="round" stroke-linecap="round"><rect x="1513.2" y="2007.8" width="17.4" height="48.4" rx="8.7"/><path d="M1531 2010.6 L1559.3 1996.6 L1559.3 2064.6 L1531 2053.4"/><path d="M1570.6 2016.8 L1590.8 2045 M1590.8 2016.8 L1570.6 2045"/></g>
<line x1="1558" y1="2119.9" x2="1558" y2="2209" stroke="#b8b8b8" stroke-width="2.8" stroke-linecap="round" stroke-dasharray="3.1 6.72"/>
<circle cx="2005.9" cy="2030.9" r="85" fill="#1a2b5a"/><circle cx="2005.9" cy="2030.9" r="74.3" fill="none" stroke="#fbf6f8" stroke-width="4.7" stroke-dasharray="4.668 6.447" transform="rotate(-94 2005.9 2030.9)"/>
<g stroke="#fff" stroke-width="5" fill="none" stroke-linejoin="miter" stroke-miterlimit="2"><path d="M1964.4 2015.2 L2005.9 1973.6 L2047.8 2015.2 Z"/><path d="M1972.7 2015.2 L1972.7 2076.3 L2039.6 2076.3 L2039.6 2015.2"/><path d="M1981.2 1998 L1981.2 1984 L1988.6 1984 L1985.4 1993.2" stroke-width="3.6"/></g><g stroke="#fff" stroke-width="4.6" fill="none" stroke-linecap="round" stroke-linejoin="round"><path d="M2005.9 2025.4 C1999 2032 1993.8 2042 1993.8 2049.6 C1993.8 2060.4 2000.4 2066.4 2005.9 2067.6 C2012.4 2066.4 2019.2 2059.8 2019.2 2049.6 C2019.2 2042 2013.2 2032 2005.9 2025.4 Z"/><path d="M2005.9 2034.8 L2005.9 2066" stroke-width="3.6"/><path d="M2005.9 2046.6 L2001.6 2041 M2005.9 2053.6 L2011.4 2047 M2005.9 2060.4 L1998.8 2053.4" stroke-width="3.2"/></g>
<line x1="2012" y1="2119.9" x2="2012" y2="2209" stroke="#b8b8b8" stroke-width="2.8" stroke-linecap="round" stroke-dasharray="3.1 6.72"/>
<text class="cjk" x="422.45" y="274.7" font-size="43.5" font-weight="300" letter-spacing="-1.9" fill="#231815">直冷</text>
<text class="cjk" x="753.45" y="274.7" font-size="43.5" font-weight="300" letter-spacing="-1.9" fill="#231815">单相</text>
<text class="cjk" x="1206.85" y="274.7" font-size="43.5" font-weight="300" letter-spacing="-1.9" fill="#231815">冷藏</text>
<text class="cjk" x="1324.64" y="274.7" font-size="43.5" font-weight="300" fill="#231815">℃</text>
<text class="cjk" x="1468.5" y="274.7" font-size="43.5" font-weight="300" fill="#231815">℃</text>
<text class="cjk" x="1695.45" y="274.7" font-size="43.5" font-weight="300" letter-spacing="-1.9" fill="#231815">冷冻</text>
<text class="cjk" x="1813.49" y="274.7" font-size="43.5" font-weight="300" fill="#231815">℃</text>
<text class="cjk" x="1947.3" y="274.7" font-size="43.5" font-weight="300" fill="#231815">℃</text>
<text class="cjkjp" x="1090.6" y="292" font-size="50.6" font-weight="300" fill="#fff">冷</text>
<text class="cjk" x="1139.2" y="291.6" font-size="47.4" font-weight="700" fill="#fff">藏</text>
<text class="cjkjp" x="1583" y="290.2" font-size="47" font-weight="300" fill="#fff">冷</text>
<text class="cjkjp" x="1628.8" y="289.4" font-size="45" font-weight="700" fill="#fff">凍</text>
<g transform="translate(690.4 0) scale(1.3 1) translate(-690.4 0)"><text class="cjk" x="690.4" y="487" font-size="15.8" font-weight="500" letter-spacing="0.2" fill="#3463b0">厨玛特</text></g>
<text x="693.2" y="500.4" font-family="Liberation Sans, sans-serif" font-weight="bold" font-size="11.4" fill="#fff" textLength="22.4" lengthAdjust="spacingAndGlyphs">Chu</text>
<text x="725" y="500.4" font-family="Liberation Sans, sans-serif" font-weight="bold" font-size="11.4" fill="#fff" textLength="25.4" lengthAdjust="spacingAndGlyphs">mart</text>
<polygon points="720.20,492.00 721.34,495.04 724.57,495.18 722.04,497.20 722.90,500.32 720.20,498.53 717.50,500.32 718.36,497.20 715.83,495.18 719.06,495.04" fill="#fff"/>
<g transform="translate(761 0) scale(1.46 1) translate(-761 0)"><text class="cjk" x="761" y="543.7" font-size="5.7" font-weight="500" letter-spacing="0.1" fill="#e6eaf2">厨玛特</text></g>
<text x="761" y="550" font-family="Liberation Sans, sans-serif" font-weight="bold" font-size="4.6" fill="#dfe4ee" textLength="10.2" lengthAdjust="spacingAndGlyphs">Chu</text>
<text x="775.6" y="550" font-family="Liberation Sans, sans-serif" font-weight="bold" font-size="4.6" fill="#dfe4ee" textLength="11.4" lengthAdjust="spacingAndGlyphs">mart</text>
<polygon points="773.40,546.70 773.82,547.82 775.02,547.87 774.08,548.62 774.40,549.78 773.40,549.11 772.40,549.78 772.72,548.62 771.78,547.87 772.98,547.82" fill="#d4567a"/>
<text class="cjk" x="905.6" y="546.2" font-size="7" font-weight="500" letter-spacing="2.4" fill="#eef1f6">商用制冷专家</text>
<text class="cjk" x="584.9" y="2279" font-size="50" fill="#231815">铜管制冷</text>
<text class="cjk" x="986" y="2279" font-size="50" fill="#231815">加厚保温层</text>
<text class="cjk" x="1437.9" y="2279" font-size="50" fill="#231815">无噪音静音</text>
<text class="cjk" x="1878.3" y="2279" font-size="50" fill="#231815">环保制冷剂</text>
<text class="cjk" x="576.2" y="2350.4" font-size="35.5" font-weight="300" fill="#4f4c4b">全铜管蒸发器,</text>
<text class="cjk" x="550.1" y="2409.1" font-size="35.5" font-weight="300" fill="#4f4c4b">高性能电机压缩器</text>
<text class="cjk" x="953.95" y="2350.4" font-size="35.5" font-weight="300" fill="#4f4c4b">负载温度回升速度慢</text>
<text class="cjk" x="948.94" y="2409.1" font-size="35.5" font-weight="300" fill="#4f4c4b">厚重钢板 <tspan x="1098.75">增加承重量</tspan></text>
<text class="cjk" x="1412.59" y="2350.4" font-size="35.5" font-weight="300" fill="#4f4c4b">噪音无污, <tspan x="1570.61">将至最低</tspan></text>
<text class="cjk" x="1844.34" y="2350.4" font-size="35.5" font-weight="300" fill="#4f4c4b">无氟环保, <tspan x="2002.36">蒸发潜热大</tspan></text>
<text class="cjk" x="401.6" y="2597.4" font-size="53.2" letter-spacing="-0.2" fill="#1c305d">规格参数</text>
<text class="cjk" x="392.9" y="2667.6" font-size="35.6" font-weight="300" letter-spacing="3.7" fill="#e3e7ef">型号</text>
<text class="cjk" x="730.4" y="2667.6" font-size="35.6" font-weight="300" letter-spacing="3.7" fill="#e3e7ef">有效内部容积</text>
<text class="cjk" x="1329.1" y="2667.6" font-size="35.6" font-weight="300" letter-spacing="3.7" fill="#e3e7ef">外形尺寸</text>
<text class="cjk" x="1971" y="2667.6" font-size="35.6" font-weight="300" letter-spacing="3.7" fill="#e3e7ef">功率</text>
<text class="cjk" x="2176.99" y="2667.6" font-size="35.6" font-weight="300" fill="#e3e7ef">（</text>
<text class="cjk" x="2252.4" y="2667.6" font-size="35.6" font-weight="300" fill="#e3e7ef">）</text>
</svg>
<div class="txt"><div class="t" style="left:424.40px;top:281.07px;font-size:33.0px;letter-spacing:0.199px;color:#231815;transform:scaleY(1.1);transform-origin:0 85%;-webkit-text-stroke:1.1px #fff">Direct cooling</div>
<div class="t" style="left:836.65px;top:239.15px;font-size:42px;letter-spacing:0.932px;color:#231815;transform:scaleY(1.13);transform-origin:0 85%;-webkit-text-stroke:1.5px #fff">220/50Hz</div>
<div class="t" style="left:753.40px;top:281.07px;font-size:33.0px;letter-spacing:-0.184px;color:#231815;transform:scaleY(1.1);transform-origin:0 85%;-webkit-text-stroke:1.1px #fff">Single phase</div>
<div class="t" style="left:1290.05px;top:239.15px;font-size:42px;letter-spacing:-1.378px;color:#231815;transform:scaleY(1.13);transform-origin:0 85%;-webkit-text-stroke:1.5px #fff">-5</div>
<div class="t" style="left:1372.24px;top:239.15px;font-size:42px;letter-spacing:-1.378px;color:#231815;transform:scaleY(1.13);transform-origin:0 85%;-webkit-text-stroke:1.5px #fff">~</div>
<div class="t" style="left:1401.39px;top:239.15px;font-size:42px;letter-spacing:-1.378px;color:#231815;transform:scaleY(1.13);transform-origin:0 85%;-webkit-text-stroke:1.5px #fff">+10</div>
<div class="t" style="left:1207.60px;top:281.07px;font-size:33.0px;letter-spacing:0.082px;color:#231815;transform:scaleY(1.1);transform-origin:0 85%;-webkit-text-stroke:1.1px #fff">Pefrigerator</div>
<div class="t" style="left:1778.65px;top:239.15px;font-size:42px;letter-spacing:-1.254px;color:#231815;transform:scaleY(1.13);transform-origin:0 85%;-webkit-text-stroke:1.5px #fff">-5</div>
<div class="t" style="left:1861.09px;top:239.15px;font-size:42px;letter-spacing:-1.254px;color:#231815;transform:scaleY(1.13);transform-origin:0 85%;-webkit-text-stroke:1.5px #fff">~</div>
<div class="t" style="left:1890.36px;top:239.15px;font-size:42px;letter-spacing:-1.254px;color:#231815;transform:scaleY(1.13);transform-origin:0 85%;-webkit-text-stroke:1.5px #fff">-18</div>
<div class="t" style="left:1697.00px;top:281.07px;font-size:33.0px;letter-spacing:-0.814px;color:#231815;transform:scaleY(1.1);transform-origin:0 85%;-webkit-text-stroke:1.1px #fff">Freezer</div>
<div class="t" style="left:661.00px;top:2551.94px;font-size:53px;letter-spacing:1.931px;color:#1c305d;transform:scaleY(1.05);transform-origin:0 85%;-webkit-text-stroke:0.3px #fff">Arameter</div>
<div class="t" style="left:471.50px;top:2637.97px;font-size:35px;letter-spacing:4.291px;color:#e3e7ef;transform:scaleY(1.15);transform-origin:0 85%;-webkit-text-stroke:1.2px #182a58">/Model</div>
<div class="t" style="left:966.20px;top:2637.97px;font-size:35px;letter-spacing:3.394px;color:#e3e7ef;transform:scaleY(1.15);transform-origin:0 85%;-webkit-text-stroke:1.2px #182a58">/Capacity(L)</div>
<div class="t" style="left:1486.30px;top:2637.97px;font-size:35px;letter-spacing:4.194px;color:#e3e7ef;transform:scaleY(1.15);transform-origin:0 85%;-webkit-text-stroke:1.2px #182a58">/Dimension(mm)</div>
<div class="t" style="left:2049.60px;top:2637.97px;font-size:35px;letter-spacing:3.076px;color:#e3e7ef;transform:scaleY(1.15);transform-origin:0 85%;-webkit-text-stroke:1.2px #182a58">/Power</div>
<div class="t" style="left:2216.29px;top:2637.97px;font-size:35px;letter-spacing:3.076px;color:#e3e7ef;transform:scaleY(1.15);transform-origin:0 85%;-webkit-text-stroke:1.2px #182a58">W</div>
<div class="t" style="left:931.30px;top:2703.28px;font-size:34.4px;letter-spacing:2.202px;color:#3b3736;transform:scaleY(1.15);transform-origin:0 85%;-webkit-text-stroke:1.2px #b3e1f8">428</div>
<div class="t" style="left:1378.69px;top:2703.28px;font-size:34.4px;letter-spacing:2.973px;color:#3b3736;transform:scaleY(1.15);transform-origin:0 85%;-webkit-text-stroke:1.2px #b3e1f8">600*700*(1855+120)</div>
<div class="t" style="left:931.30px;top:2767.88px;font-size:34.4px;letter-spacing:2.202px;color:#3b3736;transform:scaleY(1.15);transform-origin:0 85%;-webkit-text-stroke:1.2px #b3e1f8">428</div>
<div class="t" style="left:1378.69px;top:2767.88px;font-size:34.4px;letter-spacing:2.973px;color:#3b3736;transform:scaleY(1.15);transform-origin:0 85%;-webkit-text-stroke:1.2px #b3e1f8">600*700*(1855+120)</div>
<div class="t" style="left:443.87px;top:2703.28px;font-size:34.4px;letter-spacing:0.943px;color:#3b3736;transform:scaleY(1.15);transform-origin:0 85%;-webkit-text-stroke:1.2px #b3e1f8">C-JRX</div>
<div class="t" style="left:445.05px;top:2767.88px;font-size:34.4px;letter-spacing:1.309px;color:#3b3736;transform:scaleY(1.15);transform-origin:0 85%;-webkit-text-stroke:1.2px #b3e1f8">C-JFX</div>
<div class="t" style="left:2100.23px;top:2703.28px;font-size:34.4px;letter-spacing:1.868px;color:#3b3736;transform:scaleY(1.15);transform-origin:0 85%;-webkit-text-stroke:1.2px #b3e1f8">223</div>
<div class="t" style="left:2100.23px;top:2767.88px;font-size:34.4px;letter-spacing:1.868px;color:#3b3736;transform:scaleY(1.15);transform-origin:0 85%;-webkit-text-stroke:1.2px #b3e1f8">238</div></div>
</body></html>
